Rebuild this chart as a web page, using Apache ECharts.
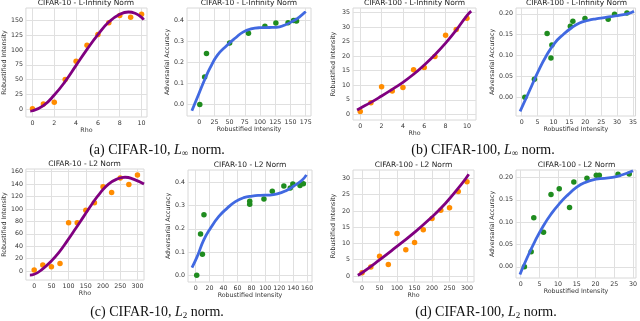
<!DOCTYPE html>
<html>
<head>
<meta charset="utf-8">
<script src="https://cdn.jsdelivr.net/npm/echarts@6/dist/echarts.min.js"></script>
<style>
  html, body { margin: 0; padding: 0; background: #fff; }
  #chart { width: 640px; height: 321px; }
</style>
</head>
<body>
<div id="chart"></div>
<script>
// 数据
const rhoLinf = [0, 1, 2, 3, 4, 5, 6, 7, 8, 9, 10]
const rhoL2 = [0, 25, 50, 75, 100, 125, 150, 175, 200, 225, 250, 275, 300]

const c10LinfIntensity = [1, 9, 12, 50, 81, 108, 126, 146, 158, 155, 160]
const c10LinfAccuracy = [0.0, 0.131, 0.243, 0.293, 0.339, 0.373, 0.389, 0.39, 0.40, 0.40, 0.398]
const c100LinfIntensity = [1, 4, 9.5, 8, 9.2, 15.3, 16.1, 19.9, 27.2, 29.2, 33.1]
const c100LinfAccuracy = [0.0, 0.043, 0.125, 0.153, 0.094, 0.17, 0.182, 0.189, 0.187, 0.199, 0.202]
const c10L2Intensity = [1.5, 9.7, 7, 11.9, 77.6, 77.6, 98, 110, 135.8, 126.6, 149.8, 139.5, 154.6]
const c10L2Accuracy = [0.0, 0.09, 0.178, 0.26, 0.319, 0.306, 0.328, 0.362, 0.376, 0.384, 0.386, 0.393, 0.394]
const c100L2Intensity = [1.0, 2.8, 6.1, 3.5, 13.05, 8.1, 10.3, 14.2, 17.7, 20.2, 21, 26, 29]
const c100L2Accuracy = [0.0, 0.034, 0.0775, 0.11, 0.1326, 0.162, 0.175, 0.19, 0.198, 0.205, 0.205, 0.207, 0.208]

// 拟合曲线
const c10LinfFitRho = [-0.2, 0, 1, 2, 3, 4, 5, 6, 7, 8, 8.8, 9.5, 10, 10.2]
const c10LinfFitIntensity = [-3, -2.5, 6, 24, 47, 74, 101, 126, 147, 160, 164, 161, 155, 151]
const c10LinfFitX = [-12, 0, 10, 17.5, 30, 45, 60, 72, 85, 100, 115, 127, 140, 155, 165, 175]
const c10LinfFitAcc = [-0.03, 0.055, 0.125, 0.172, 0.235, 0.28, 0.318, 0.345, 0.36, 0.366, 0.367, 0.368, 0.378, 0.399, 0.418, 0.443]
const c100LinfFitRho = [-0.3, 0, 1, 2, 3, 4, 5, 6, 7, 8, 9, 10, 10.4]
const c100LinfFitIntensity = [1.5, 2.1, 4.1, 6.3, 8.6, 11, 13.8, 17, 20.5, 24.5, 29, 34, 35.5]
const c100LinfFitX = [-0.5, 2.6, 5.2, 7.8, 10.4, 13, 15.6, 18.2, 20.8, 23.4, 26, 28.6, 31, 33.7, 35.3]
const c100LinfFitAcc = [-0.034, 0.018, 0.062, 0.1, 0.13, 0.15, 0.166, 0.178, 0.184, 0.188, 0.191, 0.194, 0.197, 0.201, 0.206]
const c10L2FitRho = [-12.5, 0, 24, 48, 72, 96, 120, 144, 168, 192, 216, 240, 264, 288, 319]
const c10L2FitIntensity = [-6.5, -5.3, 3, 15, 30, 48.5, 68, 88, 108, 126, 140, 148, 151, 148, 140]
const c10L2FitX = [-5.3, 2, 11.5, 21, 33, 45, 57, 69, 81, 93, 105, 117, 129, 141, 153, 159]
const c10L2FitAcc = [0.033, 0.079, 0.151, 0.201, 0.252, 0.288, 0.317, 0.334, 0.341, 0.344, 0.345, 0.35, 0.363, 0.384, 0.41, 0.432]
const c100L2FitRho = [-12.4, 0, 48, 95, 143, 190, 238, 286, 305]
const c100L2FitIntensity = [0.2, 1.0, 4.8, 8.7, 12.8, 17.2, 22.3, 28.5, 31.3]
const c100L2FitX = [-0.2, 1.6, 3.8, 6, 8.2, 10.4, 12.6, 14.8, 17, 20.1, 24.5, 27.2, 30]
const c100L2FitAcc = [-0.017, 0.018, 0.057, 0.091, 0.119, 0.142, 0.161, 0.177, 0.188, 0.196, 0.2, 0.206, 0.215]

// 刻度
const ticksRhoLinf = [0, 2, 4, 6, 8, 10]
const ticksRhoL2 = [0, 50, 100, 150, 200, 250, 300]
const ticksIntensityC10Linf = [0, 25, 50, 75, 100, 125, 150]
const ticksIntensityC10LinfX = [0, 25, 50, 75, 100, 125, 150, 175]
const ticksIntensityC100Linf = [0, 5, 10, 15, 20, 25, 30, 35]
const ticksIntensityC10L2 = [0, 20, 40, 60, 80, 100, 120, 140, 160]
const ticksIntensityC100L2 = [0, 5, 10, 15, 20, 25, 30]
const ticksAcc10 = [0, 0.1, 0.2, 0.3, 0.4]
const ticksAcc100 = [0, 0.05, 0.1, 0.15, 0.2]

const titles = ['CIFAR-10 - L-Infinity Norm', 'CIFAR-10 - L-Infinity Norm', 'CIFAR-100 - L-Infinity Norm', 'CIFAR-100 - L-Infinity Norm',
  'CIFAR-10 - L2 Norm', 'CIFAR-10 - L2 Norm', 'CIFAR-100 - L2 Norm', 'CIFAR-100 - L2 Norm']

const purple = '#800080'
const orange = '#ff8c00'
const green = '#1f8c1f'
const blue = '#4169e1'
const font = 'DejaVu Sans'

const pairs = (xs, ys) => xs.map((v, i) => [v, ys[i]])

// 每个子图: 位置 + 轴范围 + 数据
const panels = [
  { box: [25, 8, 147, 117], x: [-0.6, 10.5], y: [-13, 170.7], xt: ticksRhoLinf, yt: ticksIntensityC10Linf, xd: 0, yd: 0,
    xn: 'Rho', yn: 'Robustified Intensity', pts: pairs(rhoLinf, c10LinfIntensity), fit: pairs(c10LinfFitRho, c10LinfFitIntensity), pc: orange, lc: purple },
  { box: [187, 8, 311, 116], x: [-20, 183.7], y: [-0.055, 0.46], xt: ticksIntensityC10LinfX, yt: ticksAcc10, xd: 0, yd: 1,
    xn: 'Robustified Intensity', yn: 'Adversarial Accuracy', pts: pairs(c10LinfIntensity, c10LinfAccuracy), fit: pairs(c10LinfFitX, c10LinfFitAcc), pc: green, lc: blue },
  { box: [353, 8, 476, 120], x: [-0.68, 10.85], y: [-1.96, 36.6], xt: ticksRhoLinf, yt: ticksIntensityC100Linf, xd: 0, yd: 0,
    xn: 'Rho', yn: 'Robustified Intensity', pts: pairs(rhoLinf, c100LinfIntensity), fit: pairs(c100LinfFitRho, c100LinfFitIntensity), pc: orange, lc: purple },
  { box: [516, 8, 637, 116], x: [-1.78, 35.8], y: [-0.045, 0.214], xt: ticksIntensityC100Linf, yt: ticksAcc100, xd: 0, yd: 2,
    xn: 'Robustified Intensity', yn: 'Adversarial Accuracy', pts: pairs(c100LinfIntensity, c100LinfAccuracy), fit: pairs(c100LinfFitX, c100LinfFitAcc), pc: green, lc: blue },
  { box: [25, 169, 144, 280], x: [-24, 319], y: [-14.5, 164.3], xt: ticksRhoL2, yt: ticksIntensityC10L2, xd: 0, yd: 0,
    xn: 'Rho', yn: 'Robustified Intensity', pts: pairs(rhoL2, c10L2Intensity), fit: pairs(c10L2FitRho, c10L2FitIntensity), pc: orange, lc: purple },
  { box: [188, 170, 312, 282], x: [-11, 167], y: [-0.029, 0.453], xt: ticksIntensityC10L2, yt: ticksAcc10, xd: 0, yd: 1,
    xn: 'Robustified Intensity', yn: 'Adversarial Accuracy', pts: pairs(c10L2Intensity, c10L2Accuracy), fit: pairs(c10L2FitX, c10L2FitAcc), pc: green, lc: blue },
  { box: [353, 170, 474, 282], x: [-26, 320], y: [-1.85, 32.6], xt: ticksRhoL2, yt: ticksIntensityC100L2, xd: 0, yd: 0,
    xn: 'Rho', yn: 'Robustified Intensity', pts: pairs(rhoL2, c100L2Intensity), fit: pairs(c100L2FitRho, c100L2FitIntensity), pc: orange, lc: purple },
  { box: [516, 170, 637, 278], x: [-1.25, 30.8], y: [-0.025, 0.2167], xt: ticksIntensityC100L2, yt: ticksAcc100, xd: 0, yd: 2,
    xn: 'Robustified Intensity', yn: 'Adversarial Accuracy', pts: pairs(c100L2Intensity, c100L2Accuracy), fit: pairs(c100L2FitX, c100L2FitAcc), pc: green, lc: blue }
]

const labelStyle = { color: '#333', fontFamily: font, fontSize: 6.3 }

const axisOf = (i, range, ticks, digits, name, isX) => ({
  type: 'value',
  gridIndex: i,
  min: range[0],
  max: range[1],
  name: name,
  nameLocation: 'middle',
  nameGap: isX ? 10 : 17,
  nameTextStyle: { color: '#333', fontFamily: font, fontSize: 6.3 },
  axisLine: { show: false },
  axisTick: { show: false, customValues: ticks },
  axisLabel: {
    customValues: ticks,
    margin: 3,
    ...labelStyle,
    formatter: v => digits ? Number(v).toFixed(digits) : String(Math.round(v))
  },
  splitLine: { show: true, lineStyle: { color: '#e0e0e0', width: 1 } }
})

const captions = [
  { text: '(a) CIFAR-10, {i|L}{s|∞} norm.', x: 157, y: 150 },
  { text: '(b) CIFAR-100, {i|L}{s|∞} norm.', x: 483, y: 150 },
  { text: '(c) CIFAR-10, {i|L}{s|2} norm.', x: 157, y: 312 },
  { text: '(d) CIFAR-100, {i|L}{s|2} norm.', x: 486, y: 312 }
]
const capRich = {
  i: { fontFamily: 'Liberation Serif', fontSize: 14, fontStyle: 'italic', color: '#111', lineHeight: 16 },
  s: { fontFamily: 'Liberation Serif', fontSize: 9, color: '#111', lineHeight: 8, verticalAlign: 'bottom' }
}

const option = {
  animation: false,
  backgroundColor: '#fff',
  title: panels.map((p, i) => ({
    text: titles[i],
    left: (p.box[0] + p.box[2]) / 2,
    top: p.box[1] - 5,
    textAlign: 'center',
    textVerticalAlign: 'middle',
    padding: 0,
    textStyle: { color: '#222', fontFamily: font, fontSize: 7.5, fontWeight: 'normal' }
  })).concat(captions.map(c => ({
    text: c.text,
    left: c.x,
    top: c.y,
    textAlign: 'center',
    textVerticalAlign: 'middle',
    padding: 0,
    textStyle: { fontFamily: 'Liberation Serif', fontSize: 14, fontWeight: 'normal', color: '#111', lineHeight: 16, rich: capRich }
  }))),
  grid: panels.map(p => ({
    left: p.box[0],
    top: p.box[1],
    width: p.box[2] - p.box[0],
    height: p.box[3] - p.box[1],
    show: true,
    borderColor: '#d8d8d8',
    borderWidth: 1,
    backgroundColor: '#fff',
    containLabel: false
  })),
  xAxis: panels.map((p, i) => axisOf(i, p.x, p.xt, p.xd, p.xn, true)),
  yAxis: panels.map((p, i) => axisOf(i, p.y, p.yt, p.yd, p.yn, false)),
  series: panels.flatMap((p, i) => [
    {
      type: 'scatter',
      xAxisIndex: i,
      yAxisIndex: i,
      data: p.pts,
      symbolSize: 5.5,
      itemStyle: { color: p.pc, opacity: 1 },
      z: 3
    },
    {
      type: 'line',
      xAxisIndex: i,
      yAxisIndex: i,
      data: p.fit,
      smooth: true,
      showSymbol: false,
      lineStyle: { color: p.lc, width: 2.8 },
      z: 4
    }
  ])
}

const chart = echarts.init(document.getElementById('chart'), null, { renderer: 'canvas' })
chart.setOption(option)
</script>
</body>
</html>
